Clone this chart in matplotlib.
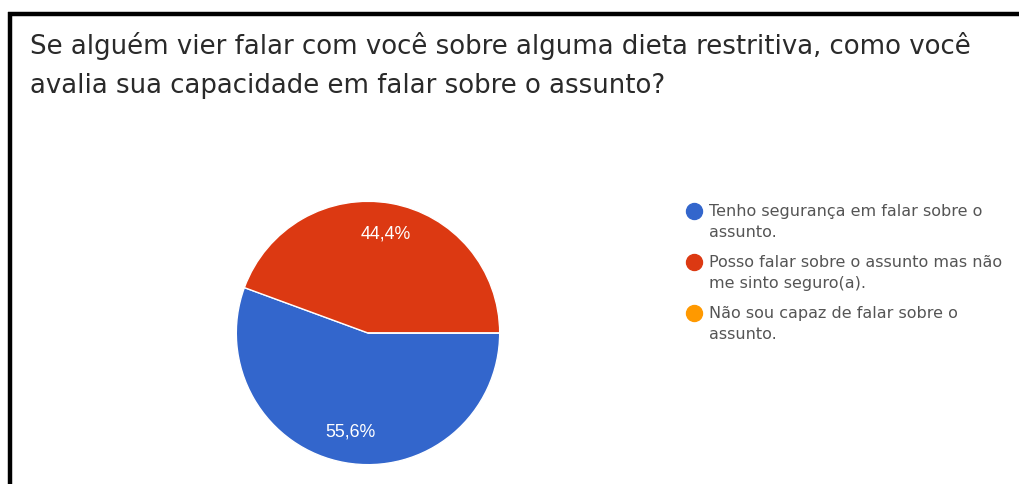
import matplotlib.pyplot as plt
from matplotlib.lines import Line2D

# survey answers (share of responses, %)
answers = [
    "Tenho segurança em falar sobre o\nassunto.",
    "Posso falar sobre o assunto mas não\nme sinto seguro(a).",
    "Não sou capaz de falar sobre o\nassunto.",
]
shares = [55.6, 44.4, 0.0]
colors = ["#3366cc", "#dc3912", "#ff9900"]
title = ("Se alguém vier falar com você sobre alguma dieta restritiva, como você\n"
         "avalia sua capacidade em falar sobre o assunto?")

W, H = 1019, 484
fig = plt.figure(figsize=(W / 100, H / 100), dpi=100)
fig.patch.set_facecolor("white")

# frame around the card (top and left edges)
fig.add_artist(Line2D([8 / W, 1], [1 - 14 / H, 1 - 14 / H], color="black", lw=3.2,
                      solid_capstyle="butt"))
fig.add_artist(Line2D([10 / W, 10 / W], [1 - 12 / H, 0], color="black", lw=3.2,
                      solid_capstyle="butt"))

fig.text(30 / W, 1 - 32 / H, title, ha="left", va="top", family="DejaVu Sans",
         fontsize=18.7, color="#2a2a2a", linespacing=1.66)

# pie
cx, cy, r = 368, 333, 133
ax = fig.add_axes([(cx - r) / W, (H - cy - r) / H, 2 * r / W, 2 * r / H])
wedges, texts, autotexts = ax.pie(
    shares, colors=colors, startangle=0, counterclock=False,
    autopct=lambda p: ("%.1f%%" % p).replace(".", ",") if p > 0 else "",
    pctdistance=0.76, radius=1,
    wedgeprops=dict(edgecolor="white", linewidth=1),
    textprops=dict(color="white", family="Liberation Sans", fontsize=12.8))
ax.set_xlim(-1.01, 1.01)
ax.set_ylim(-1.01, 1.01)
ax.axis("off")

# legend: dot next to the first line of each (wrapped) label
for i, (lab, c) in enumerate(zip(answers, colors)):
    y = 211 + 51 * i
    fig.add_artist(Line2D([693.5 / W], [1 - y / H], marker="o", ls="", markersize=11.5,
                          markerfacecolor=c, markeredgecolor=c))
    fig.text(709 / W, 1 - (y - 7) / H, lab, ha="left", va="top", family="DejaVu Sans",
             fontsize=11.5, color="#555555", linespacing=1.5)

fig.savefig("out.png", dpi=100, facecolor="white")
